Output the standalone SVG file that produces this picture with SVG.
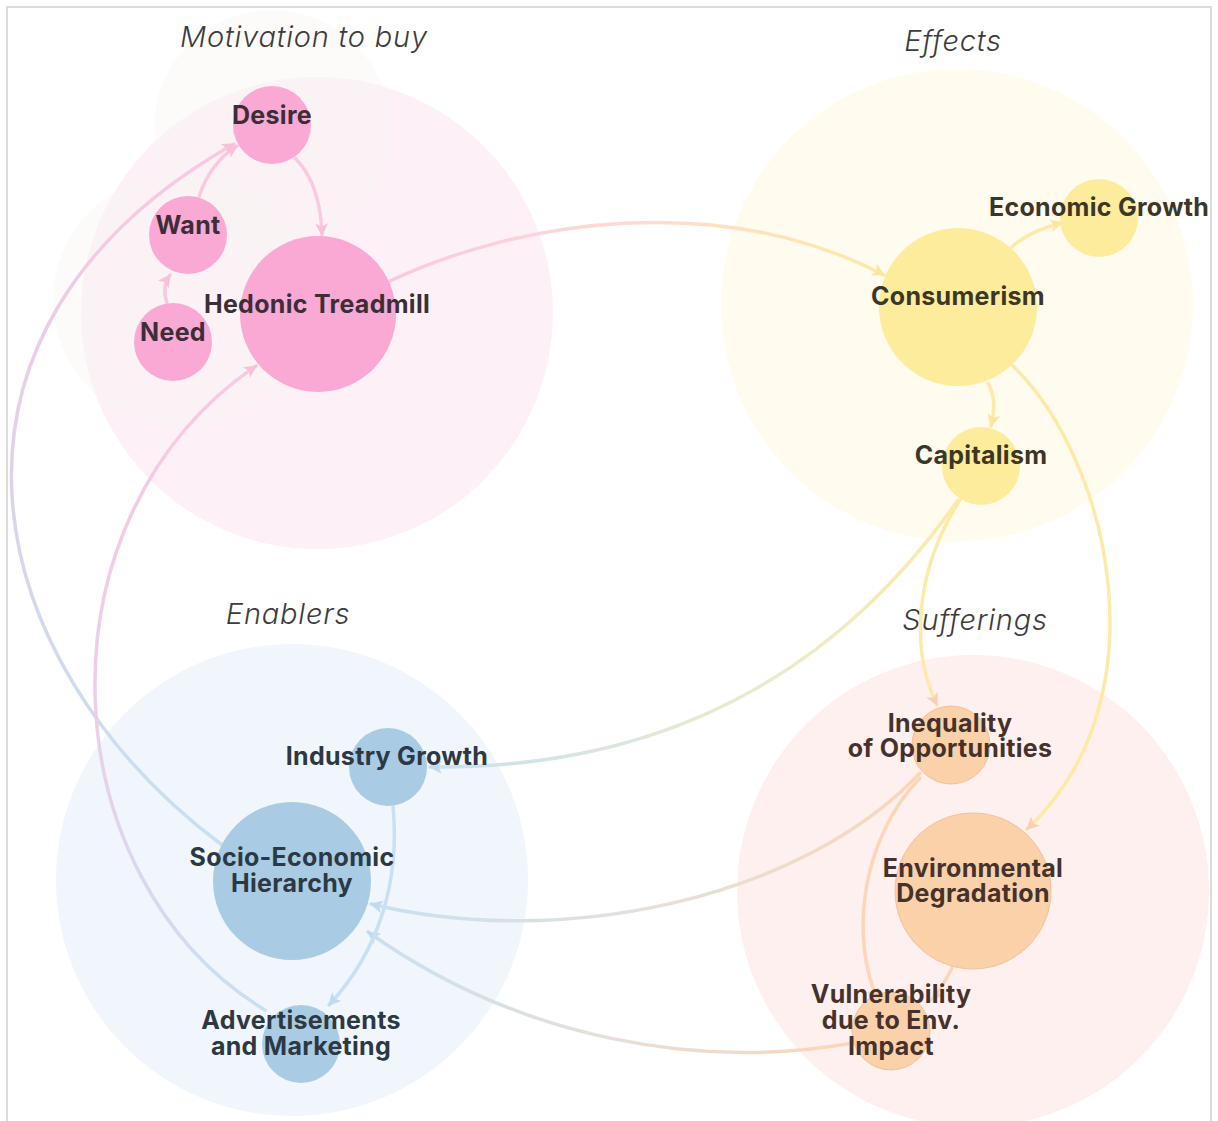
<svg xmlns="http://www.w3.org/2000/svg" width="1218" height="1121" viewBox="0 0 1218 1121">
<defs>
<style>
.frame{fill:#ffffff;stroke:#dcdcdc;stroke-width:2}
.grp-label{font-family:Inter,"Liberation Sans",sans-serif;font-style:italic;font-weight:300;font-size:29px;letter-spacing:0.8px;fill:#3c3c3c;text-anchor:middle}
.lbl{font-family:Inter,"Liberation Sans",sans-serif;font-weight:700;font-size:25px;letter-spacing:0.3px;text-anchor:middle}
.pink-bg{fill:#fdf1f7}
.yellow-bg{fill:#fffbef}
.blue-bg{fill:#f0f6fb}
.orange-bg{fill:#fdf0ee}
.faint{fill:#f8f6f2;opacity:0.4}
.pink-node{fill:#faa8d4}
.yellow-node{fill:#fdec9b}
.blue-node{fill:#a9cbe4}
.orange-node{fill:#fbd1a9;stroke:#f7bf98;stroke-width:1}
.pink-txt{fill:#3b2f37}
.yellow-txt{fill:#3a3628}
.blue-txt{fill:#2c3943}
.orange-txt{fill:#45322c}
.edge{fill:none;stroke-width:3.5;stroke-linecap:round}
.e-pink{stroke:#fbc8e2}
.e-yellow{stroke:#fdeaa8}
.e-blue{stroke:#c8e0f1}
.e-orange{stroke:#fbd6b8}
</style>
<marker id="ah-pink" viewBox="0 0 10 10" refX="9" refY="5" markerWidth="13" markerHeight="13" markerUnits="userSpaceOnUse" orient="auto"><path d="M0,0 L10,5 L0,10 L2.5,5 z" fill="#f9c0dc"/></marker>
<marker id="ah-yellow" viewBox="0 0 10 10" refX="9" refY="5" markerWidth="13" markerHeight="13" markerUnits="userSpaceOnUse" orient="auto"><path d="M0,0 L10,5 L0,10 L2.5,5 z" fill="#fde7a0"/></marker>
<marker id="ah-blue" viewBox="0 0 10 10" refX="9" refY="5" markerWidth="13" markerHeight="13" markerUnits="userSpaceOnUse" orient="auto"><path d="M0,0 L10,5 L0,10 L2.5,5 z" fill="#c0dbee"/></marker>
<marker id="ah-orange" viewBox="0 0 10 10" refX="9" refY="5" markerWidth="13" markerHeight="13" markerUnits="userSpaceOnUse" orient="auto"><path d="M0,0 L10,5 L0,10 L2.5,5 z" fill="#f9d1b2"/></marker>
<linearGradient id="g-socio-desire" gradientUnits="userSpaceOnUse" x1="222" y1="845" x2="236" y2="143"><stop offset="0" stop-color="#c8e0f1"/><stop offset="0.5" stop-color="#dcd3ec"/><stop offset="1" stop-color="#fbc8e2"/></linearGradient>
<linearGradient id="g-adv-hed" gradientUnits="userSpaceOnUse" x1="265" y1="1010" x2="256" y2="366"><stop offset="0" stop-color="#c8e0f1"/><stop offset="0.35" stop-color="#e6d2ea"/><stop offset="1" stop-color="#fbc8e2"/></linearGradient>
<linearGradient id="g-hed-cons" gradientUnits="userSpaceOnUse" x1="390" y1="281" x2="884" y2="275"><stop offset="0" stop-color="#fbc8e2"/><stop offset="0.5" stop-color="#fcdcd2"/><stop offset="1" stop-color="#fdeaa8"/></linearGradient>
<linearGradient id="g-cap-ind" gradientUnits="userSpaceOnUse" x1="958" y1="500" x2="430" y2="767"><stop offset="0" stop-color="#fdeaa8"/><stop offset="0.5" stop-color="#e6ecce"/><stop offset="1" stop-color="#c8e0f1"/></linearGradient>
<linearGradient id="g-ineq-socio" gradientUnits="userSpaceOnUse" x1="920" y1="773" x2="371" y2="904"><stop offset="0" stop-color="#fbd6b8"/><stop offset="0.5" stop-color="#e6e0da"/><stop offset="1" stop-color="#c8e0f1"/></linearGradient>
<linearGradient id="g-vuln-socio" gradientUnits="userSpaceOnUse" x1="853" y1="1043" x2="368" y2="932"><stop offset="0" stop-color="#fbd6b8"/><stop offset="0.5" stop-color="#e6e0da"/><stop offset="1" stop-color="#c8e0f1"/></linearGradient>
</defs>

<rect class="frame" x="7" y="7" width="1204" height="1130"/>

<g id="groups">
<circle class="pink-bg" cx="317" cy="313" r="236"/>
<circle class="faint" cx="272" cy="128" r="118"/>
<circle class="faint" cx="178" cy="300" r="125"/>
<circle class="yellow-bg" cx="957" cy="305" r="236"/>
<circle class="blue-bg" cx="292" cy="880" r="236"/>
<circle class="orange-bg" cx="973" cy="891" r="236"/>
</g>

<g id="group-labels">
<text class="grp-label" x="304" y="47">Motivation to buy</text>
<text class="grp-label" x="953" y="51">Effects</text>
<text class="grp-label" x="288" y="624">Enablers</text>
<text class="grp-label" x="975" y="630">Sufferings</text>
</g>

<g id="connectors">
<path class="edge e-pink" d="M167 303 C163 292 165 282 170 275" marker-end="url(#ah-pink)"/>
<path class="edge e-pink" d="M199 197 C206 175 218 158 237 146" marker-end="url(#ah-pink)"/>
<path class="edge e-pink" d="M295 158 C312 175 321 200 322 235" marker-end="url(#ah-pink)"/>
<path class="edge" stroke="url(#g-hed-cons)" d="M390 281 C520 220 720 190 884 275" marker-end="url(#ah-yellow)"/>
<path class="edge e-yellow" d="M1012 247 C1025 235 1045 227 1062 223" marker-end="url(#ah-yellow)"/>
<path class="edge e-yellow" d="M988 383 C995 395 995 410 991 426" marker-end="url(#ah-yellow)"/>
<path class="edge e-yellow" d="M1013 366 C1110 460 1165 700 1027 829" marker-end="url(#ah-orange)"/>
<path class="edge e-yellow" d="M960 500 C915 570 910 650 937 705" marker-end="url(#ah-orange)"/>
<path class="edge" stroke="url(#g-cap-ind)" d="M958 500 C860 640 700 770 430 767" marker-end="url(#ah-blue)"/>
<path class="edge" stroke="url(#g-ineq-socio)" d="M920 773 C800 900 560 950 371 904" marker-end="url(#ah-blue)"/>
<path class="edge e-orange" d="M920 778 C860 840 850 940 878 1000" marker-end="url(#ah-orange)"/>
<path class="edge e-orange" d="M952 968 C946 980 940 990 932 1000" marker-end="url(#ah-orange)"/>
<path class="edge" stroke="url(#g-vuln-socio)" d="M853 1043 C700 1070 520 1040 368 932" marker-end="url(#ah-blue)"/>
<path class="edge e-blue" d="M393 806 C400 880 380 950 329 1005" marker-end="url(#ah-blue)"/>
<path class="edge" stroke="url(#g-socio-desire)" d="M222 845 C-25 660 -95 330 234 144" marker-end="url(#ah-pink)"/>
<path class="edge" stroke="url(#g-adv-hed)" d="M265 1010 C50 880 30 520 256 366" marker-end="url(#ah-pink)"/>
</g>

<g id="node-desire"><circle class="pink-node" cx="272" cy="125" r="39"/><text class="lbl pink-txt" x="272" y="124">Desire</text></g>
<g id="node-want"><circle class="pink-node" cx="188" cy="235" r="39"/><text class="lbl pink-txt" x="188" y="234">Want</text></g>
<g id="node-need"><circle class="pink-node" cx="173" cy="342" r="39"/><text class="lbl pink-txt" x="173" y="341">Need</text></g>
<g id="node-hedonic"><circle class="pink-node" cx="318" cy="314" r="78"/><text class="lbl pink-txt" x="317" y="313">Hedonic Treadmill</text></g>

<g id="node-consumerism"><circle class="yellow-node" cx="958" cy="307" r="79"/><text class="lbl yellow-txt" x="958" y="305">Consumerism</text></g>
<g id="node-economic-growth"><circle class="yellow-node" cx="1099" cy="218" r="39"/><text class="lbl yellow-txt" x="1099" y="216">Economic Growth</text></g>
<g id="node-capitalism"><circle class="yellow-node" cx="981" cy="466" r="39"/><text class="lbl yellow-txt" x="981" y="464">Capitalism</text></g>

<g id="node-industry-growth"><circle class="blue-node" cx="388" cy="767" r="39"/><text class="lbl blue-txt" x="387" y="765">Industry Growth</text></g>
<g id="node-socio-economic"><circle class="blue-node" cx="292" cy="881" r="79"/><text class="lbl blue-txt" x="292" y="866">Socio-Economic</text><text class="lbl blue-txt" x="292" y="892">Hierarchy</text></g>
<g id="node-advertisements"><circle class="blue-node" cx="301" cy="1044" r="39"/><text class="lbl blue-txt" x="301" y="1029">Advertisements</text><text class="lbl blue-txt" x="301" y="1055">and Marketing</text></g>

<g id="node-inequality"><circle class="orange-node" cx="951" cy="745" r="39"/><text class="lbl orange-txt" x="950" y="732">Inequality</text><text class="lbl orange-txt" x="950" y="757">of Opportunities</text></g>
<g id="node-environmental"><circle class="orange-node" cx="973" cy="891" r="78"/><text class="lbl orange-txt" x="973" y="877">Environmental</text><text class="lbl orange-txt" x="973" y="902">Degradation</text></g>
<g id="node-vulnerability"><circle class="orange-node" cx="891" cy="1031" r="39"/><text class="lbl orange-txt" x="891" y="1003">Vulnerability</text><text class="lbl orange-txt" x="891" y="1029">due to Env.</text><text class="lbl orange-txt" x="891" y="1055">Impact</text></g>
</svg>
